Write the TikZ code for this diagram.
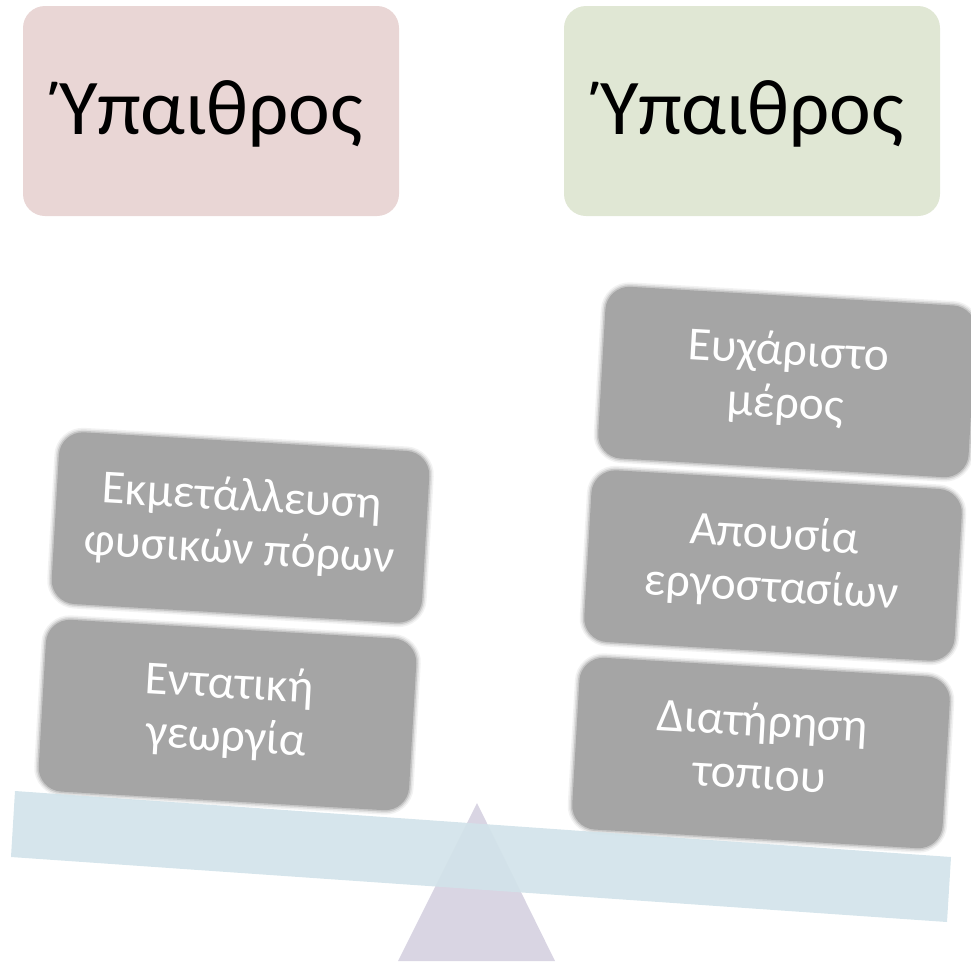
\documentclass[tikz,border=0pt]{standalone}
\usepackage{fontspec}
\setmainfont{Carlito}
\definecolor{boxgray}{HTML}{A5A5A5}
\definecolor{redbox}{HTML}{E9D6D5}
\definecolor{greenbox}{HTML}{E0E7D4}
\definecolor{beamblue}{HTML}{D2E3EA}
\definecolor{tribase}{HTML}{D9D5E3}
\newcommand{\lowpad}{\rule[-14pt]{0pt}{1pt}}
\tikzset{
  headbox/.style={rounded corners=22pt,minimum width=376pt,minimum height=210pt,inner sep=0pt,
    text=black,font=\fontsize{79}{90}\selectfont},
  grayblock/.style={rotate=-3.3,rounded corners=24pt,minimum width=371pt,minimum height=172pt,inner sep=0pt,
    fill=boxgray,text=white,align=center,font=\fontsize{47.5}{53}\selectfont,
    preaction={draw=boxgray,draw opacity=.14,line width=9pt},
    preaction={draw=boxgray,draw opacity=.24,line width=6pt},
    preaction={draw=boxgray,draw opacity=.45,line width=3pt}},
}
\begin{document}
\begin{tikzpicture}[x=1pt,y=-1pt]
\useasboundingbox (0,0) rectangle (971,967);
\clip (0,0) rectangle (971,967);
\node[headbox,fill=redbox] (redhead) at (211,111) {\raisebox{-3pt}[\height][\depth]{Ύπαιθρος}};
\node[headbox,fill=greenbox] (greenhead) at (752,111) {\raisebox{-3pt}[\height][\depth]{Ύπαιθρος}};
\node[grayblock] (expl) at (240.5,527.5) {Εκμετάλλευση\\φυσικών πόρων\lowpad};
\node[grayblock] (agri) at (227.5,715) {Εντατική\\γεωργία\lowpad};
\node[grayblock] (place) at (787,382) {Ευχάριστο\\μέρος\lowpad};
\node[grayblock] (fact) at (773,565.5) {Απουσία\\εργοστασίων\lowpad};
\node[grayblock] (land) at (761,753) {Διατήρηση\\τοπιου\lowpad};
\fill[tribase] (477,803) -- (555,961) -- (398,961) -- cycle;
\fill[beamblue,opacity=.92] (15,791) -- (951,857) -- (947,922) -- (11,857) -- cycle;
\end{tikzpicture}
\end{document}
